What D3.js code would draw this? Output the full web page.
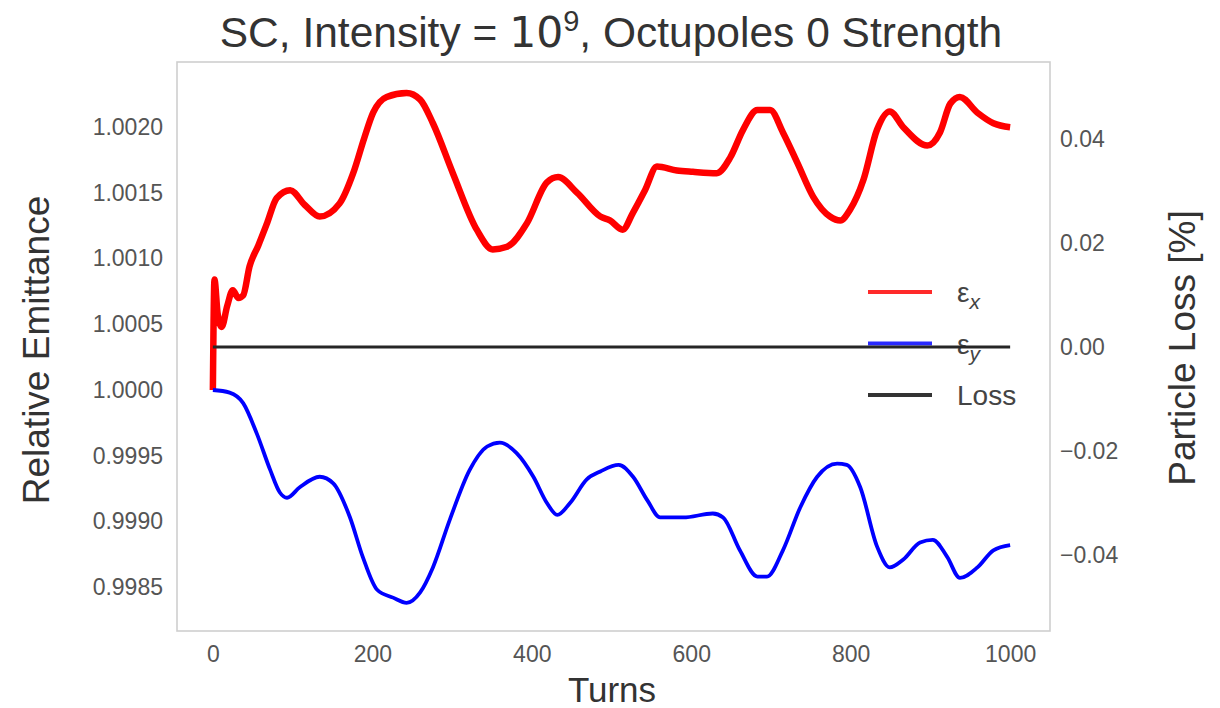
<!DOCTYPE html>
<html>
<head>
<meta charset="utf-8">
<script src="https://cdn.jsdelivr.net/npm/d3@7"></script>
<style>
  body { margin: 0; background: #fff; }
  text { font-family: "Liberation Sans", Arial, sans-serif; }
</style>
</head>
<body>
<svg width="1220" height="708"></svg>
<script>
// turns and relative emittance
const turnsX = [0, 2, 6, 11, 18, 25, 32, 38, 46, 57, 68, 80, 97, 115, 134, 159, 176, 190, 201, 218,
  243, 260, 276, 301, 331, 351, 369, 394, 419, 433, 457, 486, 498, 514, 527, 542, 557, 582, 602, 632,
  649, 665, 683, 699, 715, 733, 753, 774, 787, 799, 816, 833, 849, 866, 896, 912, 925, 937, 959, 979, 1000];
const emitX = [1.00000, 1.00084, 1.00058, 1.00048, 1.00064, 1.00076, 1.00070, 1.00072, 1.00094, 1.00110,
  1.00127, 1.00146, 1.00152, 1.00141, 1.00132, 1.00142, 1.00165, 1.00192, 1.00211, 1.00223,
  1.00226, 1.00221, 1.00203, 1.00165, 1.00122, 1.00107, 1.00109, 1.00127, 1.00158, 1.00162,
  1.00150, 1.00132, 1.00129, 1.00122, 1.00135, 1.00152, 1.00170, 1.00167, 1.00166, 1.00165,
  1.00177, 1.00198, 1.00213, 1.00213, 1.00196, 1.00173, 1.00147, 1.00132, 1.00129, 1.00137,
  1.00160, 1.00198, 1.00212, 1.00200, 1.00186, 1.00196, 1.00218, 1.00223, 1.00211, 1.00203, 1.00200];

const turnsY = [0, 21, 38, 55, 72, 84, 93, 109, 134, 151, 172, 188, 206, 226, 243, 260, 276, 297, 322, 344,
  360, 381, 402, 419, 432, 448, 469, 486, 509, 527, 545, 561, 590, 627, 640, 661, 683, 695, 715, 737,
  758, 783, 795, 812, 833, 849, 866, 887, 903, 921, 937, 959, 979, 1000];
const emitY = [1.00000, 0.99998, 0.99990, 0.99967, 0.99939, 0.99922, 0.99918, 0.99926, 0.99934, 0.99929,
  0.99903, 0.99873, 0.99848, 0.99842, 0.99838, 0.99846, 0.99865, 0.99901, 0.99939, 0.99957,
  0.99960, 0.99952, 0.99934, 0.99914, 0.99905, 0.99914, 0.99932, 0.99938, 0.99943, 0.99934,
  0.99916, 0.99903, 0.99903, 0.99906, 0.99903, 0.99878, 0.99858, 0.99858, 0.99878, 0.99911,
  0.99934, 0.99944, 0.99943, 0.99926, 0.99881, 0.99865, 0.99871, 0.99884, 0.99886, 0.99873,
  0.99857, 0.99865, 0.99878, 0.99882];

const turnsLoss = [0, 1000];
const loss = [0, 0];

const xTicks = [0, 200, 400, 600, 800, 1000];
const leftTicks = [0.9985, 0.9990, 0.9995, 1.0000, 1.0005, 1.0010, 1.0015, 1.0020];
const rightTicks = [-0.04, -0.02, 0, 0.02, 0.04];

const legendItems = [
  { label: "ε", sub: "x", color: "#ff2a2a" },
  { label: "ε", sub: "y", color: "#2a2aff" },
  { label: "Loss", sub: null, color: "#333333" }
];

const plotLeft = 177, plotRight = 1050, plotTop = 62, plotBottom = 631;

const svg = d3.select("svg");

const x = d3.scaleLinear().domain([-45, 1050]).range([plotLeft, plotRight]);
const yL = d3.scaleLinear().domain([0.998166, 1.002496]).range([plotBottom, plotTop]);
const yR = d3.scaleLinear().domain([-0.0546, 0.0548]).range([plotBottom, plotTop]);

// frame
svg.append("rect")
    .attr("x", plotLeft).attr("y", plotTop)
    .attr("width", plotRight - plotLeft).attr("height", plotBottom - plotTop)
    .attr("fill", "none").attr("stroke", "#cfcfcf").attr("stroke-width", 1.6);

// axes (labels only, no tick marks)
const styleAxis = function(g) {
  g.select(".domain").remove();
  g.selectAll(".tick line").remove();
  g.selectAll(".tick text")
      .attr("fill", "#555")
      .style("font-size", "23px")
      .style("font-family", "'Liberation Sans', Arial, sans-serif");
};

svg.append("g")
    .attr("transform", "translate(0," + plotBottom + ")")
    .call(d3.axisBottom(x).tickValues(xTicks).tickSize(0).tickPadding(15).tickFormat(d3.format("d")))
    .call(styleAxis);

svg.append("g")
    .attr("transform", "translate(" + plotLeft + ",0)")
    .call(d3.axisLeft(yL).tickValues(leftTicks).tickSize(0).tickPadding(14).tickFormat(d3.format(".4f")))
    .call(styleAxis);

svg.append("g")
    .attr("transform", "translate(" + plotRight + ",0)")
    .call(d3.axisRight(yR).tickValues(rightTicks).tickSize(0).tickPadding(10).tickFormat(d3.format(".2f")))
    .call(styleAxis);

// emittance lines
const lineL = d3.line().x(d => x(d[0])).y(d => yL(d[1])).curve(d3.curveMonotoneX);
const lineR = d3.line().x(d => x(d[0])).y(d => yR(d[1]));

svg.append("path")
    .datum(d3.zip(turnsX, emitX))
    .attr("d", lineL)
    .attr("fill", "none").attr("stroke", "#ff0000")
    .attr("stroke-width", 6.5).attr("stroke-linejoin", "round");

svg.append("path")
    .datum(d3.zip(turnsY, emitY))
    .attr("d", lineL)
    .attr("fill", "none").attr("stroke", "#0000ff")
    .attr("stroke-width", 3.8).attr("stroke-linejoin", "round");

// legend (belongs to the left axes, so the loss line is drawn over it)
const leg = svg.append("g").attr("transform", "translate(868,292)");
legendItems.forEach(function(d, i) {
  const row = leg.append("g").attr("transform", "translate(0," + (i * 51.5) + ")");
  row.append("line")
      .attr("x1", 0).attr("x2", 64)
      .attr("stroke", d.color).attr("stroke-width", 4);
  const t = row.append("text")
      .attr("x", 89).attr("y", 10)
      .attr("fill", "#444")
      .style("font-size", "28px")
      .text(d.label);
  if (d.sub) {
    t.append("tspan")
        .attr("dy", 7)
        .style("font-size", "21px")
        .style("font-style", "italic")
        .text(d.sub);
  }
});

// loss on the twin axis
svg.append("path")
    .datum(d3.zip(turnsLoss, loss))
    .attr("d", lineR)
    .attr("fill", "none").attr("stroke", "#262626")
    .attr("stroke-width", 3.2);

// titles
const title = svg.append("text")
    .attr("x", 611).attr("y", 47)
    .attr("text-anchor", "middle")
    .attr("fill", "#333")
    .style("font-size", "42.5px");
title.append("tspan").text("SC, Intensity = ");
title.append("tspan").style("font-family", "'DejaVu Sans', sans-serif").text("10");
title.append("tspan").attr("dy", -16).style("font-size", "29px").text("9");
title.append("tspan").attr("dy", 16).text(", Octupoles 0 Strength");

svg.append("text")
    .attr("x", 612).attr("y", 702)
    .attr("text-anchor", "middle")
    .attr("fill", "#333")
    .style("font-size", "35px")
    .text("Turns");

svg.append("text")
    .attr("transform", "translate(49,350) rotate(-90)")
    .attr("text-anchor", "middle")
    .attr("fill", "#333")
    .style("font-size", "37px")
    .text("Relative Emittance");

svg.append("text")
    .attr("transform", "translate(1195,348) rotate(-90)")
    .attr("text-anchor", "middle")
    .attr("fill", "#333")
    .style("font-size", "37px")
    .text("Particle Loss [%]");
</script>
</body>
</html>
